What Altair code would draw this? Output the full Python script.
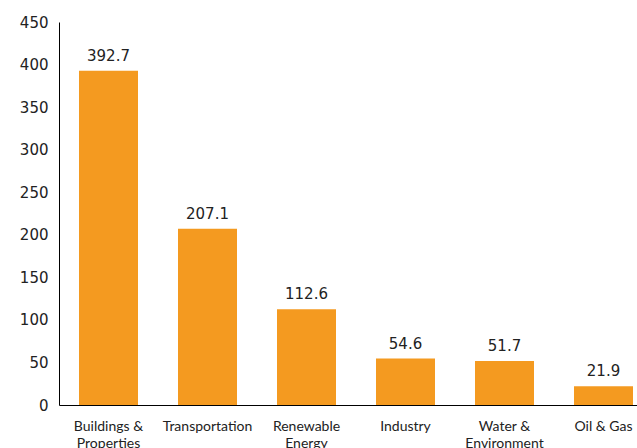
import altair as alt
import pandas as pd

categories = ["Buildings &\nProperties", "Transportation", "Renewable\nEnergy", "Industry", "Water &\nEnvironment", "Oil & Gas"]
values = [392.7, 207.1, 112.6, 54.6, 51.7, 21.9]
value_labels = ["392.7", "207.1", "112.6", "54.6", "51.7", "21.9"]

df = pd.DataFrame({"category": categories, "value": values, "label": value_labels})

x = alt.X("category:N", sort=categories, title=None,
          scale=alt.Scale(range=[0, 594], paddingInner=0.404, paddingOuter=0.202),
          axis=alt.Axis(labelAngle=0, ticks=False, domainColor="black", labelFont="Lato",
                        labelFontSize=14, labelColor="#222222", labelPadding=14,
                        labelLineHeight=17, labelExpr="split(datum.label, '\\n')"))
y = alt.Y("value:Q", title=None,
          scale=alt.Scale(domain=[0, 450], nice=False),
          axis=alt.Axis(values=list(range(0, 451, 50)), grid=False, ticks=False, domainColor="black",
                        labelFont="DejaVu Sans", labelFontSize=15, labelColor="#222222", labelPadding=11))

bars = alt.Chart(df).mark_bar(color="#F49A20").encode(x=x, y=y)
text = alt.Chart(df).mark_text(dy=-10, baseline="alphabetic", font="DejaVu Sans", fontSize=15, color="#222222").encode(
    x=alt.X("category:N", sort=categories), y="value:Q", text="label:N")

chart = (bars + text).properties(
    width=578, height=383,
    autosize=alt.AutoSizeParams(type="none"),
    padding={"left": 59, "top": 22, "right": 0, "bottom": 43},
).configure_view(stroke=None)

chart.save("out.html", embed_options={"renderer": "svg", "actions": False})
